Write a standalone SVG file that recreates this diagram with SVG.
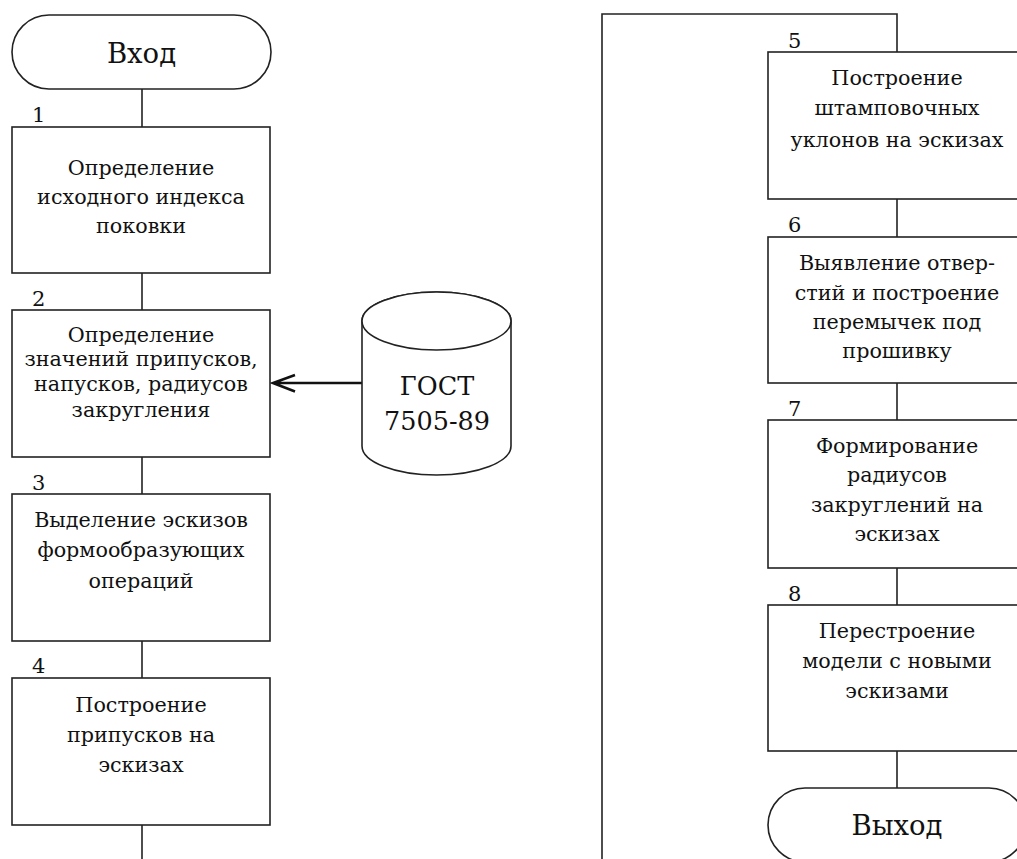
<svg xmlns="http://www.w3.org/2000/svg" width="1017" height="859" viewBox="0 0 1017 859">
  <defs>
    <style>
      .shape { fill: #ffffff; stroke: #222222; stroke-width: 1.6; }
      .line { fill: none; stroke: #222222; stroke-width: 1.6; }
      .feed { fill: none; stroke: #111111; stroke-width: 2.6; }
      .txt { font-family: "DejaVu Serif", "Liberation Serif", serif; font-size: 20.7px; fill: #111111; text-anchor: middle; }
      .term { font-family: "DejaVu Serif", "Liberation Serif", serif; font-size: 27.5px; fill: #111111; text-anchor: middle; }
      .num { font-family: "DejaVu Serif", "Liberation Serif", serif; font-size: 21px; fill: #111111; }
      .db { font-family: "DejaVu Serif", "Liberation Serif", serif; font-size: 25.5px; fill: #111111; text-anchor: middle; }
    </style>
  </defs>
  <rect width="1017" height="859" fill="#ffffff"/>

  <!-- connectors -->
  <g id="connectors">
    <path class="line" d="M142 89 V127 M142 273 V310 M142 457 V494 M142 641 V678 M142 825 V859"/>
    <path class="line" d="M602 859 V14 H897 V52"/>
    <path class="line" d="M897 199 V237 M897 383 V420 M897 568 V605 M897 751 V788"/>
    <path class="feed" d="M362 383 H273 M295 375 L273 383 L295 391.5"/>
  </g>

  <!-- left column -->
  <g id="start">
    <rect class="shape" x="12" y="15" width="259" height="74" rx="37" ry="37"/>
    <text class="term" x="141.5" y="63">Вход</text>
  </g>

  <g id="step1">
    <text class="num" x="32" y="122">1</text>
    <rect class="shape" x="12" y="127" width="258" height="146"/>
    <text class="txt" x="141" y="175">Определение</text>
    <text class="txt" x="141" y="204">исходного индекса</text>
    <text class="txt" x="141" y="233">поковки</text>
  </g>

  <g id="step2">
    <text class="num" x="32" y="306">2</text>
    <rect class="shape" x="12" y="310" width="258" height="147"/>
    <text class="txt" x="141" y="342">Определение</text>
    <text class="txt" x="141" y="366">значений припусков,</text>
    <text class="txt" x="141" y="391">напусков, радиусов</text>
    <text class="txt" x="141" y="417">закругления</text>
  </g>

  <g id="step3">
    <text class="num" x="32" y="490">3</text>
    <rect class="shape" x="12" y="494" width="258" height="147"/>
    <text class="txt" x="141" y="527">Выделение эскизов</text>
    <text class="txt" x="141" y="557">формообразующих</text>
    <text class="txt" x="141" y="588">операций</text>
  </g>

  <g id="step4">
    <text class="num" x="32" y="673">4</text>
    <rect class="shape" x="12" y="678" width="258" height="147"/>
    <text class="txt" x="141" y="712">Построение</text>
    <text class="txt" x="141" y="742">припусков на</text>
    <text class="txt" x="141" y="772">эскизах</text>
  </g>

  <!-- reference data source -->
  <g id="gost">
    <path class="shape" d="M362 321 V446 A74.5 29 0 0 0 511 446 V321 A74.5 29 0 0 0 362 321 Z"/>
    <ellipse class="shape" cx="436.5" cy="321" rx="74.5" ry="29"/>
    <text class="db" x="437" y="395">ГОСТ</text>
    <text class="db" x="437" y="430">7505-89</text>
  </g>

  <!-- right column -->
  <g id="step5">
    <text class="num" x="788" y="48">5</text>
    <rect class="shape" x="768" y="52" width="258" height="147"/>
    <text class="txt" x="897" y="85">Построение</text>
    <text class="txt" x="897" y="115">штамповочных</text>
    <text class="txt" x="897" y="147">уклонов на эскизах</text>
  </g>

  <g id="step6">
    <text class="num" x="788" y="232">6</text>
    <rect class="shape" x="768" y="237" width="258" height="146"/>
    <text class="txt" x="897" y="270">Выявление отвер-</text>
    <text class="txt" x="897" y="300">стий и построение</text>
    <text class="txt" x="897" y="329">перемычек под</text>
    <text class="txt" x="897" y="358">прошивку</text>
  </g>

  <g id="step7">
    <text class="num" x="788" y="416">7</text>
    <rect class="shape" x="768" y="420" width="258" height="148"/>
    <text class="txt" x="897" y="453">Формирование</text>
    <text class="txt" x="897" y="482">радиусов</text>
    <text class="txt" x="897" y="512">закруглений на</text>
    <text class="txt" x="897" y="541">эскизах</text>
  </g>

  <g id="step8">
    <text class="num" x="788" y="601">8</text>
    <rect class="shape" x="768" y="605" width="258" height="146"/>
    <text class="txt" x="897" y="638">Перестроение</text>
    <text class="txt" x="897" y="668">модели с новыми</text>
    <text class="txt" x="897" y="698">эскизами</text>
  </g>

  <g id="finish">
    <rect class="shape" x="768" y="788" width="258" height="74" rx="37" ry="37"/>
    <text class="term" x="897" y="835">Выход</text>
  </g>
</svg>
